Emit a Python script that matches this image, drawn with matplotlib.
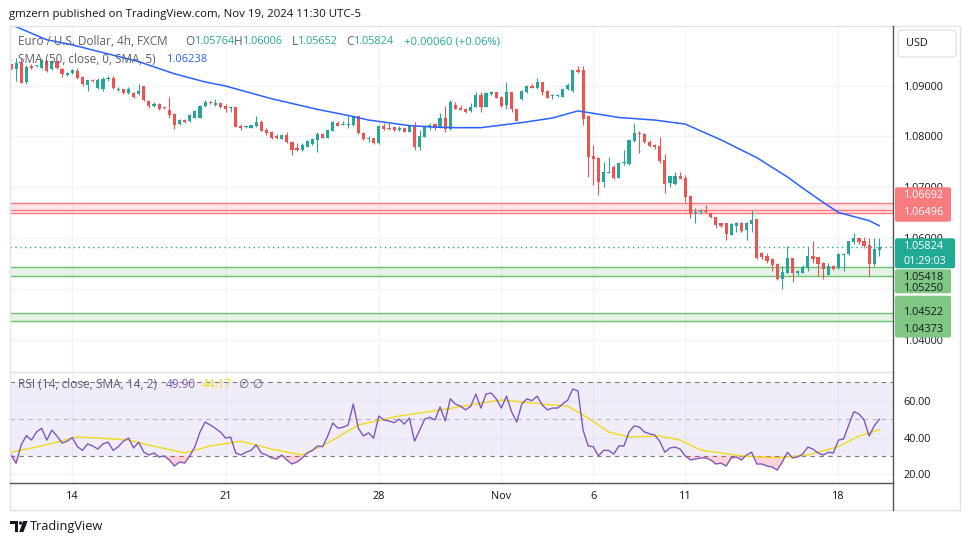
import numpy as np
import matplotlib
matplotlib.use("Agg")
import matplotlib.pyplot as plt
from matplotlib.patches import FancyBboxPatch, Polygon, Circle

plt.rcParams['font.family'] = ['Open Sans', 'DejaVu Sans']

# ---------------- data ----------------
opens = [1.0942, 1.0932, 1.0944, 1.0906, 1.0939, 1.0938, 1.0935, 1.0949, 1.0932, 1.0949,
         1.0933, 1.0921, 1.0925, 1.0929, 1.0916, 1.0901, 1.0910, 1.0895, 1.0893, 1.0912,
         1.0915, 1.0891, 1.0893, 1.0885, 1.0885, 1.0883, 1.0899, 1.0870, 1.0860, 1.0864,
         1.0857, 1.0852, 1.0844, 1.0824, 1.0832, 1.0830, 1.0837, 1.0837, 1.0860, 1.0868,
         1.0861, 1.0866, 1.0860, 1.0855, 1.0858, 1.0821, 1.0818, 1.0817, 1.0820, 1.0829,
         1.0812, 1.0809, 1.0801, 1.0795, 1.0803, 1.0789, 1.0776, 1.0773, 1.0779, 1.0784,
         1.0793, 1.0805, 1.0797, 1.0811, 1.0827, 1.0823, 1.0823, 1.0822, 1.0839, 1.0807,
         1.0794, 1.0796, 1.0787, 1.0821, 1.0817, 1.0818, 1.0812, 1.0817, 1.0809, 1.0821,
         1.0778, 1.0799, 1.0818, 1.0824, 1.0817, 1.0836, 1.0814, 1.0862, 1.0855, 1.0854,
         1.0849, 1.0858, 1.0881, 1.0858, 1.0883, 1.0887, 1.0878, 1.0862, 1.0887, 1.0853,
         1.0873, 1.0887, 1.0900, 1.0896, 1.0906, 1.0890, 1.0879, 1.0879, 1.0878, 1.0893,
         1.0890, 1.0930, 1.0930, 1.0839, 1.0761, 1.0758, 1.0711, 1.0728, 1.0739, 1.0718,
         1.0747, 1.0745, 1.0791, 1.0807, 1.0805, 1.0789, 1.0782, 1.0781, 1.0753, 1.0709,
         1.0706, 1.0722, 1.0717, 1.0683, 1.0650, 1.0651, 1.0652, 1.0650, 1.0641, 1.0629,
         1.0629, 1.0606, 1.0624, 1.0630, 1.0615, 1.0627, 1.0637, 1.0571, 1.0564, 1.0558,
         1.0549, 1.0519, 1.0531, 1.0560, 1.0531, 1.0531, 1.0540, 1.0564, 1.0562, 1.0551,
         1.0527, 1.0545, 1.0540, 1.0567, 1.0568, 1.0591, 1.0599, 1.0594, 1.0586, 1.0549,
         1.05764]
highs = [1.0943, 1.0954, 1.0954, 1.0940, 1.0942, 1.0940, 1.0952, 1.0950, 1.0950, 1.0950,
         1.0934, 1.0926, 1.0933, 1.0935, 1.0918, 1.0911, 1.0912, 1.0914, 1.0917, 1.0919,
         1.0918, 1.0897, 1.0894, 1.0897, 1.0888, 1.0902, 1.0900, 1.0871, 1.0868, 1.0865,
         1.0858, 1.0877, 1.0845, 1.0834, 1.0834, 1.0843, 1.0851, 1.0862, 1.0871, 1.0870,
         1.0873, 1.0867, 1.0863, 1.0859, 1.0859, 1.0824, 1.0821, 1.0823, 1.0840, 1.0832,
         1.0817, 1.0810, 1.0804, 1.0805, 1.0809, 1.0790, 1.0786, 1.0787, 1.0792, 1.0796,
         1.0809, 1.0807, 1.0813, 1.0830, 1.0830, 1.0830, 1.0841, 1.0840, 1.0840, 1.0808,
         1.0801, 1.0797, 1.0822, 1.0827, 1.0827, 1.0819, 1.0820, 1.0818, 1.0822, 1.0829,
         1.0812, 1.0822, 1.0826, 1.0826, 1.0845, 1.0860, 1.0872, 1.0868, 1.0862, 1.0855,
         1.0866, 1.0887, 1.0888, 1.0887, 1.0889, 1.0888, 1.0879, 1.0907, 1.0888, 1.0854,
         1.0891, 1.0901, 1.0903, 1.0914, 1.0907, 1.0891, 1.0884, 1.0883, 1.0895, 1.0904,
         1.0931, 1.0938, 1.0938, 1.0840, 1.0783, 1.0760, 1.0750, 1.0760, 1.0743, 1.0749,
         1.0773, 1.0795, 1.0826, 1.0810, 1.0806, 1.0792, 1.0785, 1.0798, 1.0765, 1.0722,
         1.0729, 1.0729, 1.0724, 1.0684, 1.0659, 1.0656, 1.0665, 1.0651, 1.0642, 1.0630,
         1.0630, 1.0629, 1.0632, 1.0631, 1.0632, 1.0655, 1.0638, 1.0573, 1.0570, 1.0560,
         1.0551, 1.0545, 1.0584, 1.0561, 1.0536, 1.0547, 1.0583, 1.0594, 1.0563, 1.0553,
         1.0551, 1.0547, 1.0570, 1.0571, 1.0594, 1.0610, 1.0601, 1.0602, 1.0599, 1.0599,
         1.06006]
lows = [1.0931, 1.0909, 1.0904, 1.0902, 1.0932, 1.0936, 1.0933, 1.0927, 1.0931, 1.0932,
        1.0917, 1.0919, 1.0922, 1.0912, 1.0900, 1.0890, 1.0907, 1.0893, 1.0890, 1.0909,
        1.0893, 1.0889, 1.0884, 1.0883, 1.0876, 1.0881, 1.0869, 1.0855, 1.0858, 1.0852,
        1.0853, 1.0837, 1.0814, 1.0822, 1.0827, 1.0829, 1.0836, 1.0836, 1.0857, 1.0863,
        1.0860, 1.0856, 1.0848, 1.0847, 1.0818, 1.0812, 1.0816, 1.0816, 1.0819, 1.0811,
        1.0803, 1.0795, 1.0795, 1.0794, 1.0787, 1.0763, 1.0772, 1.0771, 1.0778, 1.0783,
        1.0770, 1.0796, 1.0797, 1.0811, 1.0820, 1.0822, 1.0816, 1.0821, 1.0805, 1.0793,
        1.0788, 1.0785, 1.0785, 1.0812, 1.0813, 1.0811, 1.0811, 1.0808, 1.0808, 1.0774,
        1.0773, 1.0798, 1.0812, 1.0812, 1.0816, 1.0809, 1.0812, 1.0853, 1.0851, 1.0845,
        1.0847, 1.0857, 1.0848, 1.0857, 1.0881, 1.0875, 1.0858, 1.0853, 1.0847, 1.0830,
        1.0871, 1.0885, 1.0895, 1.0894, 1.0882, 1.0875, 1.0874, 1.0877, 1.0877, 1.0892,
        1.0888, 1.0925, 1.0822, 1.0720, 1.0704, 1.0684, 1.0701, 1.0727, 1.0715, 1.0717,
        1.0743, 1.0744, 1.0789, 1.0768, 1.0787, 1.0778, 1.0775, 1.0747, 1.0689, 1.0701,
        1.0705, 1.0715, 1.0671, 1.0639, 1.0630, 1.0648, 1.0650, 1.0640, 1.0619, 1.0622,
        1.0596, 1.0606, 1.0612, 1.0612, 1.0596, 1.0612, 1.0559, 1.0558, 1.0550, 1.0535,
        1.0518, 1.0499, 1.0530, 1.0514, 1.0527, 1.0530, 1.0535, 1.0550, 1.0525, 1.0519,
        1.0526, 1.0536, 1.0538, 1.0535, 1.0567, 1.0588, 1.0588, 1.0581, 1.0525, 1.0545,
        1.05652]
closes = [1.0932, 1.0944, 1.0905, 1.0937, 1.0935, 1.0939, 1.0950, 1.0929, 1.0948, 1.0934,
          1.0922, 1.0924, 1.0931, 1.0914, 1.0902, 1.0910, 1.0908, 1.0910, 1.0912, 1.0915,
          1.0895, 1.0893, 1.0885, 1.0893, 1.0878, 1.0889, 1.0871, 1.0860, 1.0863, 1.0853,
          1.0855, 1.0842, 1.0822, 1.0832, 1.0829, 1.0842, 1.0849, 1.0860, 1.0868, 1.0865,
          1.0866, 1.0858, 1.0854, 1.0858, 1.0819, 1.0816, 1.0819, 1.0822, 1.0829, 1.0811,
          1.0806, 1.0797, 1.0797, 1.0803, 1.0788, 1.0773, 1.0774, 1.0783, 1.0791, 1.0795,
          1.0804, 1.0797, 1.0812, 1.0829, 1.0821, 1.0824, 1.0825, 1.0839, 1.0806, 1.0794,
          1.0797, 1.0787, 1.0821, 1.0814, 1.0815, 1.0812, 1.0817, 1.0809, 1.0821, 1.0778,
          1.0801, 1.0821, 1.0823, 1.0817, 1.0837, 1.0814, 1.0868, 1.0854, 1.0852, 1.0847,
          1.0858, 1.0881, 1.0858, 1.0886, 1.0888, 1.0876, 1.0860, 1.0887, 1.0853, 1.0831,
          1.0889, 1.0899, 1.0896, 1.0907, 1.0888, 1.0876, 1.0881, 1.0881, 1.0893, 1.0901,
          1.0930, 1.0927, 1.0835, 1.0760, 1.0756, 1.0711, 1.0729, 1.0729, 1.0717, 1.0748,
          1.0748, 1.0793, 1.0806, 1.0804, 1.0788, 1.0781, 1.0779, 1.0752, 1.0707, 1.0721,
          1.0722, 1.0716, 1.0681, 1.0648, 1.0651, 1.0652, 1.0651, 1.0641, 1.0625, 1.0624,
          1.0607, 1.0628, 1.0630, 1.0614, 1.0630, 1.0636, 1.0560, 1.0562, 1.0555, 1.0547,
          1.0519, 1.0532, 1.0560, 1.0531, 1.0534, 1.0543, 1.0564, 1.0558, 1.0549, 1.0538,
          1.0545, 1.0538, 1.0568, 1.0569, 1.0593, 1.0599, 1.0591, 1.0584, 1.0549, 1.0578,
          1.05824]

sma_bars = [0, 7, 12, 25, 32, 38, 42, 51, 60, 66, 70, 78, 83, 87, 92, 100, 106, 111,
            116, 119, 126, 132, 139, 146, 152, 155, 159, 162, 165, 168, 170]
sma_vals = [1.1020, 1.0990, 1.0980, 1.0947, 1.0923, 1.0907, 1.0899, 1.0874, 1.0853,
            1.0841, 1.0832, 1.0821, 1.0818, 1.0817, 1.0817, 1.0827, 1.0836, 1.0850,
            1.0842, 1.0837, 1.0832, 1.0824, 1.0793, 1.0758, 1.0720, 1.0698, 1.0670,
            1.0650, 1.0642, 1.0634, 1.06238]

rsi_vals = [30.5, 26.0, 36.0, 41.0, 38.6, 43.0, 45.0, 38.6, 44.0, 40.8,
            37.0, 38.0, 40.0, 35.0, 33.0, 36.5, 35.4, 33.7, 36.5, 37.5,
            33.0, 35.0, 38.0, 39.7, 34.3, 37.5, 32.0, 30.5, 31.6, 29.4,
            30.0, 27.8, 24.5, 26.7, 26.1, 30.0, 35.0, 43.0, 48.4, 46.8,
            45.0, 43.0, 39.7, 40.2, 31.6, 30.5, 32.0, 33.0, 36.0, 31.6,
            30.5, 28.9, 28.3, 30.5, 27.8, 25.6, 26.7, 28.9, 31.6, 33.0,
            35.4, 35.0, 40.8, 47.9, 45.0, 45.6, 46.8, 58.2, 45.0, 40.8,
            42.5, 39.7, 51.7, 49.5, 49.0, 48.0, 50.0, 47.3, 50.6, 38.0,
            44.0, 50.0, 51.0, 49.5, 56.6, 49.0, 61.0, 58.2, 57.0, 55.0,
            57.0, 63.6, 56.0, 63.6, 64.2, 61.0, 56.0, 62.5, 54.0, 48.4,
            58.2, 61.0, 60.0, 62.5, 57.7, 55.0, 56.0, 56.0, 58.2, 60.4,
            66.4, 65.3, 44.0, 35.4, 35.0, 30.0, 33.0, 33.0, 31.0, 35.4,
            35.4, 43.0, 46.3, 45.7, 43.0, 42.0, 41.4, 38.0, 32.0, 34.3,
            34.8, 33.7, 30.0, 27.8, 28.3, 28.9, 28.9, 27.8, 25.6, 26.1,
            24.5, 28.9, 29.4, 27.8, 30.5, 32.0, 25.6, 25.6, 24.5, 24.0,
            22.3, 26.7, 32.0, 28.9, 29.4, 31.0, 34.8, 33.7, 31.6, 30.5,
            32.0, 31.6, 38.6, 39.2, 46.8, 54.0, 52.8, 49.5, 40.8, 46.3,
            49.90]
rsi_ma_bars = [0, 6, 13, 17, 23, 27, 34, 39, 45, 51, 57, 62, 68, 76, 84, 90, 96, 104,
               109, 113, 117, 121, 127, 131, 135, 143, 150, 156, 162, 166, 170]
rsi_ma_vals = [32.0, 35.4, 40.3, 39.7, 38.6, 35.9, 31.6, 35.4, 38.0, 33.7, 30.5, 37.0,
               46.8, 51.7, 54.9, 57.7, 60.4, 58.2, 57.0, 50.6, 43.0, 40.3, 40.8, 38.6,
               33.2, 30.0, 28.9, 30.5, 35.0, 40.8, 44.17]

zone_red = [1.06692, 1.06543, 1.06496]
zone_green1 = [1.05418, 1.05250]
zone_green2 = [1.04522, 1.04373]
last_price = 1.05824
countdown = "01:29:03"
price_ticks = [1.04, 1.05, 1.06, 1.07, 1.08, 1.09]
rsi_ticks = [20, 40, 60]
rsi_levels = [30, 50, 70]
time_tick_bars = [12, 42, 72, 96, 114, 132, 162]
time_tick_labels = ["14", "21", "28", "Nov", "6", "11", "18"]
ohlc_labels = ["O", "H", "L", "C"]
ohlc_last = [1.05764, 1.06006, 1.05652, 1.05824]
change_text = "+0.00060 (+0.06%)"
sma_last = 1.06238
rsi_last, rsi_ma_last = 49.90, 44.17

# ---------------- style ----------------
UP, DOWN = '#26a69a', '#ef5350'
GRID = '#f0f3fa'
TXT = '#131722'
GRAY = '#50535e'
SMA_C = '#2962ff'
RSI_C = '#7e57c2'
RSIMA_C = '#f2d91b'

W, H = 970, 545
fig = plt.figure(figsize=(W / 100, H / 100), dpi=100)
fig.patch.set_facecolor('white')

PL, PR, FR = 10, 893, 960
PT, MB, RB, TB = 26, 372, 483, 510
X0, DX = 11.0, 5.108
P_REF, Y_REF, PPU = 1.09, 85.5, 5080.0
R_REF, RY_REF, RPU = 60.0, 400.7, 1.84


def frac(x0, y0, x1, y1):
    return [x0 / W, 1 - y1 / H, (x1 - x0) / W, (y1 - y0) / H]


xlim = ((PL - X0) / DX, (PR - X0) / DX)
p_lo, p_hi = P_REF - (MB - Y_REF) / PPU, P_REF + (Y_REF - PT) / PPU
r_lo, r_hi = R_REF - (RB - RY_REF) / RPU, R_REF + (RY_REF - MB) / RPU

ax = fig.add_axes(frac(PL, PT, PR, MB))
ax2 = fig.add_axes(frac(PL, MB, PR, RB))
for a in (ax, ax2):
    a.set_xlim(*xlim)
    for s in a.spines.values():
        s.set_visible(False)
    a.tick_params(length=0)
    a.set_facecolor('white')
ax.set_ylim(p_lo, p_hi)
ax2.set_ylim(r_lo, r_hi)


def py(p):
    return PT + (p_hi - p) * PPU


# grid
for p in price_ticks:
    ax.axhline(p, color=GRID, lw=1.0, zorder=0)
for t in time_tick_bars:
    ax.axvline(t, color=GRID, lw=1.0, zorder=0)
    ax2.axvline(t, color=GRID, lw=1.0, zorder=0)
for r in rsi_ticks:
    ax2.axhline(r, color=GRID, lw=1.0, zorder=0)

# zones
ax.axhspan(zone_red[2], zone_red[0], color='#f23645', alpha=0.13, lw=0, zorder=1)
for p in zone_red:
    ax.axhline(p, color='#f77c80', lw=1.0, zorder=2)
ax.axhspan(zone_green1[1], zone_green1[0], color='#4caf50', alpha=0.14, lw=0, zorder=1)
ax.axhspan(zone_green2[1], zone_green2[0], color='#4caf50', alpha=0.14, lw=0, zorder=1)
for p in zone_green1 + zone_green2:
    ax.axhline(p, color='#6cc070', lw=1.0, zorder=2)

# last price dotted line
ax.axhline(last_price, color=UP, lw=1.0, ls=(0, (1, 2.5)), zorder=2)

# candles
o = np.array(opens); h = np.array(highs); l = np.array(lows); c = np.array(closes)
x = np.arange(len(c))
cols = np.where(c >= o, UP, DOWN)
ax.vlines(x, l, h, colors=cols, lw=0.8, zorder=3)
body_b = np.minimum(o, c)
body_h = np.maximum(np.abs(c - o), 1.0 / PPU)
ax.bar(x, body_h, bottom=body_b, width=0.62, color=cols, lw=0, zorder=4)

# SMA
ax.plot(sma_bars, sma_vals, color=SMA_C, lw=1.1, zorder=5, solid_capstyle='round')

# price axis labels
ax.yaxis.tick_right()
ax.set_yticks(price_ticks)
ax.set_yticklabels([f"{p:.5f}" for p in price_ticks])
ax.tick_params(axis='y', pad=7.8, labelsize=7.8, labelcolor=TXT)
ax.set_xticks([])

# RSI pane
rv = np.array(rsi_vals, dtype=float)
ax2.axhspan(rsi_levels[0], rsi_levels[2], color=RSI_C, alpha=0.1, lw=0, zorder=1)
for lv, al in zip(rsi_levels, [1.0, 0.5, 1.0]):
    ax2.axhline(lv, color='#787b86', lw=0.8, ls=(0, (4, 4)), alpha=al, zorder=2)
ax2.fill_between(x, rv, rsi_levels[0], where=rv < rsi_levels[0], interpolate=True,
                 color='#f23645', alpha=0.22, lw=0, zorder=2)
ax2.fill_between(x, rv, rsi_levels[2], where=rv > rsi_levels[2], interpolate=True,
                 color='#089981', alpha=0.22, lw=0, zorder=2)
ax2.plot(rsi_ma_bars, rsi_ma_vals, color=RSIMA_C, lw=1.0, zorder=3)
ax2.plot(x, rv, color=RSI_C, lw=1.0, zorder=4)
ax2.yaxis.tick_right()
ax2.set_yticks(rsi_ticks)
ax2.set_yticklabels([f"{r:.2f}" for r in rsi_ticks])
ax2.tick_params(axis='y', pad=7.8, labelsize=7.8, labelcolor=TXT)
ax2.set_xticks(time_tick_bars)
ax2.set_xticklabels(time_tick_labels)
ax2.tick_params(axis='x', pad=5.5, labelsize=7.8, labelcolor=TXT)

# ---------------- overlay (frame, badges, texts) ----------------
ov = fig.add_axes([0, 0, 1, 1], zorder=10)
ov.set_xlim(0, W)
ov.set_ylim(H, 0)
ov.axis('off')
ov.patch.set_alpha(0)

ov.plot([PL, FR], [PT, PT], color='#e0e3eb', lw=1.0)
ov.plot([PL, FR], [TB, TB], color='#e0e3eb', lw=1.0)
ov.plot([PL, PL], [PT, TB], color='#e0e3eb', lw=1.0)
ov.plot([FR, FR], [PT, TB], color='#e0e3eb', lw=1.0)
ov.plot([PL, PR], [MB, MB], color='#e0e3eb', lw=1.0)
ov.plot([PL, PR], [RB, RB], color=GRAY, lw=1.0)
ov.plot([PR, PR], [PT, TB], color=GRAY, lw=1.0)

renderer = fig.canvas.get_renderer()


def put(txt, x0, y0, color, size=7.8, ha='left', **kw):
    return ov.text(x0, y0, txt, color=color, fontsize=size, ha=ha, va='center', **kw)


def width(t):
    return t.get_window_extent(renderer).width


def fit(t, target):
    t.set_fontsize(t.get_fontsize() * target / width(t))
    return t


# USD box
ov.add_patch(FancyBboxPatch((898, 30), 58, 27, boxstyle="round,pad=0,rounding_size=4",
                            fc='white', ec='#e0e3eb', lw=1.0))
put("USD", 906, 43.5, TXT, 7.8)


def badge(y0, y1, x1, fc):
    ov.add_patch(FancyBboxPatch((PR + 2, y0), x1 - PR - 2, y1 - y0,
                                boxstyle="round,pad=0,rounding_size=2", fc=fc, ec='none'))


badge(187.3, 221.7, 951, '#f77c80')
put(f"{zone_red[0]:.5f}", 903.5, 195.7, 'white')
put(f"{zone_red[2]:.5f}", 903.5, 212.7, 'white')
badge(238.3, 268.3, 955, '#22ab94')
put(f"{last_price:.5f}", 903.5, py(last_price), 'white')
put(countdown, 903.5, 261.0, 'white')
badge(269.3, 293.3, 951, '#81c784')
put(f"{zone_green1[0]:.5f}", 903.5, 277.0, TXT)
put(f"{zone_green1[1]:.5f}", 903.5, 288.6, TXT)
badge(295.7, 337.5, 951, '#81c784')
put(f"{zone_green2[0]:.5f}", 903.5, py(zone_green2[0]), TXT)
put(f"{zone_green2[1]:.5f}", 903.5, 329.0, TXT)

# header
fit(put("gmzern published on TradingView.com, Nov 19, 2024 11:30 UTC-5", 9, 14, TXT, 8), 352)

# legend line 1
LEG = '#5d606b'
VAL = '#22ab94'
t0 = fit(put("Euro / U.S. Dollar, 4h, FXCM", 18.3, 41.7, LEG, 7.8), 151)
fs = t0.get_fontsize()
for lab, val, xx in zip(ohlc_labels, ohlc_last, [185.7, 234.3, 292.0, 346.7]):
    tl = put(lab, xx, 41.7, LEG, fs)
    fit(put(f"{val:.5f}", xx + width(tl) + 0.3, 41.7, VAL, fs), 40.5)
fit(put(change_text, 404, 41.7, VAL, fs), 96)
# legend line 2
fit(put("SMA (50, close, 0, SMA, 5)", 18.3, 59.3, LEG, fs), 138)
fit(put(f"{sma_last:.5f}", 165.7, 59.3, SMA_C, fs), 41)
# RSI legend
fit(put("RSI (14, close, SMA, 14, 2)", 18.3, 385, LEG, fs), 138)
fit(put(f"{rsi_last:.2f}", 165.7, 385, RSI_C, fs), 30)
fit(put(f"{rsi_ma_last:.2f}", 201.7, 385, RSIMA_C, fs), 30)
put("\u2205", 238.5, 385, LEG, fs)
put("\u2205", 252.5, 385, LEG, fs)

# footer logo + text
ov.add_patch(Polygon([(10, 521), (18, 521), (18, 532), (14.6, 532), (14.6, 524.4), (10, 524.4)],
                     closed=True, fc=TXT, ec='none'))
ov.add_patch(Circle((20.6, 523.0), 1.7, fc=TXT, ec='none'))
ov.add_patch(Polygon([(23.2, 521), (27.6, 521), (23.4, 532), (19.2, 532)], closed=True, fc=TXT, ec='none'))
fit(put("TradingView", 30, 526.8, TXT, 8.8), 73)

fig.savefig("out.png", dpi=100)
